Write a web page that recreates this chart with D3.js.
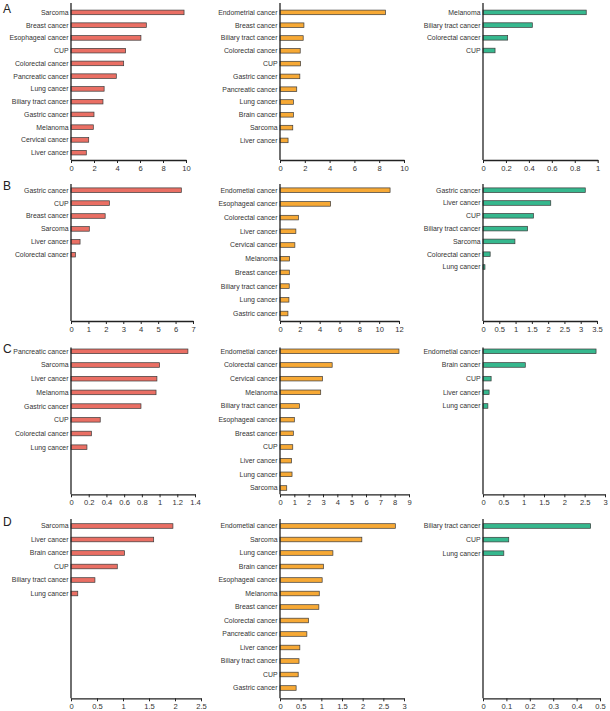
<!DOCTYPE html>
<html><head><meta charset="utf-8">
<script src="https://cdn.jsdelivr.net/npm/d3@7"></script>
<style>
html,body{margin:0;padding:0;background:#fff;}
svg{display:block;font-family:"Liberation Sans",Arial,sans-serif;}
</style></head>
<body>
<svg id="c" width="610" height="711"></svg>
<script>
// ---------- data ----------
const catsA1 = ["Sarcoma","Breast cancer","Esophageal cancer","CUP","Colorectal cancer","Pancreatic cancer","Lung cancer","Biliary tract cancer","Gastric cancer","Melanoma","Cervical cancer","Liver cancer"];
const valsA1 = [9.83,6.55,6.08,4.75,4.58,3.94,2.88,2.78,2.0,1.94,1.54,1.33];
const ticksA1 = [0,2,4,6,8,10];

const catsA2 = ["Endometrial cancer","Breast cancer","Biliary tract cancer","Colorectal cancer","CUP","Gastric cancer","Pancreatic cancer","Lung cancer","Brain cancer","Sarcoma","Liver cancer"];
const valsA2 = [8.5,1.93,1.87,1.63,1.66,1.6,1.35,1.08,1.08,1.03,0.65];
const ticksA2 = [0,2,4,6,8,10];

const catsA3 = ["Melanoma","Biliary tract cancer","Colorectal cancer","CUP"];
const valsA3 = [0.9,0.43,0.215,0.105];
const ticksA3 = [0,0.2,0.4,0.6,0.8,1];

const catsB1 = ["Gastric cancer","CUP","Breast cancer","Sarcoma","Liver cancer","Colorectal cancer"];
const valsB1 = [6.33,2.2,1.96,1.05,0.52,0.25];
const ticksB1 = [0,1,2,3,4,5,6,7];

const catsB2 = ["Endometial cancer","Esophageal cancer","Colorectal cancer","Liver cancer","Cervical cancer","Melanoma","Breast cancer","Biliary tract cancer","Lung cancer","Gastric cancer"];
const valsB2 = [11.1,5.1,1.85,1.6,1.5,0.97,0.94,0.93,0.9,0.8];
const ticksB2 = [0,2,4,6,8,10,12];

const catsB3 = ["Gastric cancer","Liver cancer","CUP","Biliary tract cancer","Sarcoma","Colorectal cancer","Lung cancer"];
const valsB3 = [3.14,2.08,1.55,1.37,0.98,0.22,0.06];
const ticksB3 = [0,0.5,1,1.5,2,2.5,3,3.5];

const catsC1 = ["Pancreatic cancer","Sarcoma","Liver cancer","Melanoma","Gastric cancer","CUP","Colorectal cancer","Lung cancer"];
const valsC1 = [1.32,1.0,0.97,0.96,0.79,0.33,0.23,0.18];
const ticksC1 = [0,0.2,0.4,0.6,0.8,1,1.2,1.4];

const catsC2 = ["Endometial cancer","Colorectal cancer","Cervical cancer","Melanoma","Biliary tract cancer","Esophageal cancer","Breast cancer","CUP","Liver cancer","Lung cancer","Sarcoma"];
const valsC2 = [8.3,3.64,2.96,2.84,1.35,1.0,0.93,0.89,0.8,0.84,0.47];
const ticksC2 = [0,1,2,3,4,5,6,7,8,9];

const catsC3 = ["Endometial cancer","Brain cancer","CUP","Liver cancer","Lung cancer"];
const valsC3 = [2.78,1.04,0.2,0.15,0.12];
const ticksC3 = [0,0.5,1,1.5,2,2.5,3];

const catsD1 = ["Sarcoma","Liver cancer","Brain cancer","CUP","Biliary tract cancer","Lung cancer"];
const valsD1 = [1.96,1.59,1.03,0.89,0.46,0.13];
const ticksD1 = [0,0.5,1,1.5,2,2.5];

const catsD2 = ["Endometial cancer","Sarcoma","Lung cancer","Brain cancer","Esophageal cancer","Melanoma","Breast cancer","Colorectal cancer","Pancreatic cancer","Liver cancer","Biliary tract cancer","CUP","Gastric cancer"];
const valsD2 = [2.79,1.98,1.28,1.05,1.02,0.95,0.94,0.69,0.65,0.48,0.46,0.44,0.39];
const ticksD2 = [0,0.5,1,1.5,2,2.5,3];

const catsD3 = ["Biliary tract cancer","CUP","Lung cancer"];
const valsD3 = [0.46,0.11,0.089];
const ticksD3 = [0,0.1,0.2,0.3,0.4,0.5];

const panelLetters = ["A","B","C","D"];
const colColors = ["#EA6F64","#F7A935","#36B88E"];

// ---------- layout ----------
const colX0 = [71,280,483];
const rows = [
  {letter:"A", top:3,   bottom:160, first:12.4, steps:[12.75,12.8,12.7], x1:[186,404,597.7], ly:13,
   panels:[[catsA1,valsA1,ticksA1],[catsA2,valsA2,ticksA2],[catsA3,valsA3,ticksA3]]},
  {letter:"B", top:184, bottom:321, first:190.2, steps:[12.9,13.7,12.8], x1:[193,399,597], ly:190,
   panels:[[catsB1,valsB1,ticksB1],[catsB2,valsB2,ticksB2],[catsB3,valsB3,ticksB3]]},
  {letter:"C", top:347.5, bottom:494.3, first:351.3, steps:[13.7,13.67,13.67], x1:[195,409,605], ly:353,
   panels:[[catsC1,valsC1,ticksC1],[catsC2,valsC2,ticksC2],[catsC3,valsC3,ticksC3]]},
  {letter:"D", top:519, bottom:698.3, first:526, steps:[13.5,13.5,13.6], x1:[201,404,600], ly:526,
   panels:[[catsD1,valsD1,ticksD1],[catsD2,valsD2,ticksD2],[catsD3,valsD3,ticksD3]]}
];

const svg = d3.select("#c");
const barH = 4.6;

rows.forEach(row => {
  svg.append("text").attr("x",3).attr("y",row.ly)
    .attr("font-size",12).attr("fill","#222").text(row.letter);
  row.panels.forEach((p,ci) => {
    const [cats, vals, ticks] = p;
    const x0 = colX0[ci], x1 = row.x1[ci];
    const step = row.steps[ci];
    const x = d3.scaleLinear().domain([0, ticks[ticks.length-1]]).range([x0, x1]);
    const y = d3.scalePoint().domain(cats)
      .range([row.first, row.first + (cats.length-1)*step]);
    const g = svg.append("g");
    // bars
    g.selectAll("rect").data(cats).join("rect")
      .attr("x", x(0))
      .attr("y", d => y(d) - barH/2)
      .attr("width", (d,i) => x(vals[i]) - x(0))
      .attr("height", barH)
      .attr("fill", colColors[ci])
      .attr("stroke", "#3a3a3a")
      .attr("stroke-width", 0.7);
    // category labels
    g.selectAll("text.cat").data(cats).join("text")
      .attr("class","cat")
      .attr("x", x0 - 2.5)
      .attr("y", d => y(d))
      .attr("dy","0.35em")
      .attr("text-anchor","end")
      .attr("font-size",6.9)
      .attr("fill","#333")
      .text(d => d);
    // y axis line
    g.append("line").attr("x1",x0).attr("x2",x0)
      .attr("y1",row.top).attr("y2",row.bottom)
      .attr("stroke","#222").attr("stroke-width",1.3);
    // x axis
    const ax = g.append("g").attr("transform",`translate(0,${row.bottom})`)
      .call(d3.axisBottom(x).tickValues(ticks).tickSize(3).tickSizeOuter(0)
            .tickFormat(d3.format("~g")));
    ax.select(".domain").attr("stroke","#222").attr("stroke-width",1.3);
    ax.selectAll(".tick line").attr("stroke","#222");
    ax.selectAll(".tick text").attr("font-size",7.6).attr("fill","#333")
      .attr("font-family","\"Liberation Sans\",Arial,sans-serif").attr("y",5.5);
  });
});
</script>
</body></html>
